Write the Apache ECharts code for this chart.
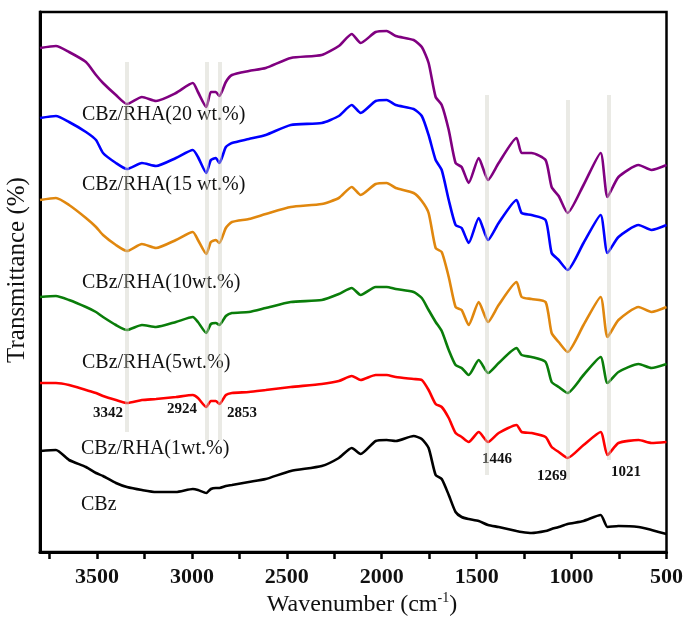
<!DOCTYPE html>
<html>
<head>
<meta charset="utf-8">
<script src="https://cdn.jsdelivr.net/npm/echarts@6/dist/echarts.min.js"></script>
<style>
html,body{margin:0;padding:0;background:#fff;}
#chart{width:686px;height:624px;}
</style>
</head>
<body>
<div id="chart"></div>
<script>
// Wavenumbers (cm-1) shared by all spectra
var wavenumbers = [3800,3716,3647,3558,3505,3468,3400,3342,3263,3189,3084,2995,2968,2924,2900,2874,2855,2821,2789,2700,2611,2479,2316,2226,2158,2111,2032,1974,1926,1832,1789,1753,1716,1684,1647,1611,1579,1542,1489,1440,1384,1290,1263,1211,1137,1105,1068,1021,937,847,811,753,647,579,500];

// Offset transmittance (arbitrary units) for each spectrum
var cbz20 = [504,506,500,490,477,469,457,448,455,451,459,469,460,445,460,460,456,470,477,481,484,494,497,506,518,509,520,521,516,512,505,489,455,447,422,389,385,369,394,372,389,414,399,399,392,365,356,339,367,399,355,375,387,382,387];
var cbz15 = [434,436,430,420,412,399,389,383,389,386,394,402,395,379,392,394,389,405,409,413,417,427,429,436,447,439,451,452,447,443,436,417,392,382,352,327,324,309,334,312,329,352,339,337,332,299,292,282,309,337,299,315,327,322,327];
var cbz10 = [352,354,347,334,325,317,307,301,308,304,312,320,312,298,310,312,309,324,330,333,338,345,348,354,365,357,368,369,364,359,351,339,304,300,275,245,242,227,250,230,247,270,255,253,250,219,210,200,227,255,215,232,245,240,245];
var cbz5  = [255,256,252,245,240,235,227,222,227,225,230,235,230,219,228,229,227,236,239,240,244,250,252,258,264,257,265,265,263,260,254,242,230,221,202,187,184,177,192,179,189,204,197,195,190,170,165,159,177,195,169,180,188,184,188];
var cbz1  = [169,169,167,162,159,156,152,149,152,153,155,157,154,145,151,151,148,157,159,160,162,165,168,171,176,172,177,177,175,173,172,162,148,145,134,119,115,110,120,110,119,127,120,119,115,105,100,94,107,120,97,109,112,109,110];
var cbz   = [101,102,92,85,79,76,69,65,62,60,60,63,62,59,63,64,64,66,67,70,73,81,86,94,104,98,111,112,111,116,113,104,77,73,57,40,35,33,31,27,25,21,20,19,21,23,25,28,31,37,25,26,25,22,18];

var seriesNames = ['CBz/RHA(20 wt.%)','CBz/RHA(15 wt.%)','CBz/RHA(10wt.%)','CBz/RHA(5wt.%)','CBz/RHA(1wt.%)','CBz'];
var seriesColors = ['#800080','#0000ff','#e0870e','#0a7d0a','#ff0000','#000000'];
var seriesValues = [cbz20, cbz15, cbz10, cbz5, cbz1, cbz];

// Marked band positions: [wavenumber, top, bottom]
var bands = [[3342,490,120],[2924,490,112],[2853,490,112],[1446,457,77],[1021,452,72],[805,457,92]];
var peakLabels = ['3342','2924','2853','1446','1269','1021'];
var xTickLabels = [3500,3000,2500,2000,1500,1000,500];
var xMinorTicks = [3750,3500,3250,3000,2750,2500,2250,2000,1750,1500,1250,1000,750,500];

function pairs(vals){ return wavenumbers.map(function(w,i){ return [w, vals[i]]; }); }

var series = seriesValues.map(function(v,i){
  return {
    name: seriesNames[i], type:'line', data: pairs(v), showSymbol:false, symbol:'none',
    lineStyle:{color:seriesColors[i], width:2.6}, itemStyle:{color:seriesColors[i]},
    smooth:0.2, silent:true, z:2
  };
});
series.push({
  type:'line', data:[], z:5, silent:true,
  markLine:{
    silent:true, symbol:['none','none'], label:{show:false},
    lineStyle:{color:'rgba(205,205,192,0.42)', width:4, type:'solid'},
    data: bands.map(function(b){ return [{coord:[b[0], b[1]]},{coord:[b[0], b[2]]}]; })
  }
});

var serif = '"Liberation Serif","Times New Roman",serif';
var nameLabelPos = [[82,115],[82,185],[82,283],[82,363],[81,449],[81,505]];
var peakLabelPos = [[108,413],[182,409],[242,413],[497,459],[552,476],[626,472]];
var graphics = [];
seriesNames.forEach(function(n,i){
  graphics.push({type:'text', x:nameLabelPos[i][0], y:nameLabelPos[i][1], silent:true,
    style:{text:n, font:'20px '+serif, fill:'#111', textAlign:'left', textVerticalAlign:'middle'}});
});
peakLabels.forEach(function(t,i){
  graphics.push({type:'text', x:peakLabelPos[i][0], y:peakLabelPos[i][1], silent:true,
    style:{text:t, font:'bold 15px '+serif, fill:'#111', textAlign:'center', textVerticalAlign:'middle'}});
});
graphics.push({type:'text', x:17, y:270, rotation:Math.PI/2, silent:true,
  style:{text:'Transmittance (%)', font:'25px '+serif, fill:'#111', textAlign:'center', textVerticalAlign:'middle'}});
graphics.push({type:'text', x:362, y:605, silent:true,
  style:{text:'{a|Wavenumber (cm}{s|-1}{a|)}', textAlign:'center', textVerticalAlign:'middle',
    rich:{a:{fontFamily:serif, fontSize:24, fill:'#111', color:'#111', lineHeight:28},
          s:{fontFamily:serif, fontSize:14, fill:'#111', color:'#111', lineHeight:28, verticalAlign:'top'}}}});

var chart = echarts.init(document.getElementById('chart'));
chart.setOption({
  backgroundColor:'#ffffff',
  animation:false,
  grid:{left:40, right:18, top:12, bottom:72, show:true, borderColor:'#000', borderWidth:2.5, backgroundColor:'transparent'},
  xAxis:{
    type:'value', min:500, max:3800, inverse:true,
    axisLine:{show:true, lineStyle:{color:'#000', width:3}},
    axisTick:{show:true, inside:false, length:7, lineStyle:{color:'#000', width:2.5}, customValues:xMinorTicks},
    axisLabel:{show:true, margin:14, color:'#111', fontFamily:serif, fontWeight:'bold', fontSize:22,
      customValues:xTickLabels, formatter:function(v){ return String(v); }},
    splitLine:{show:false}
  },
  yAxis:{
    type:'value', min:0, max:540,
    axisLine:{show:true, lineStyle:{color:'#000', width:3}},
    axisTick:{show:false}, axisLabel:{show:false}, splitLine:{show:false}
  },
  series: series,
  graphic: graphics
});
</script>
</body>
</html>
